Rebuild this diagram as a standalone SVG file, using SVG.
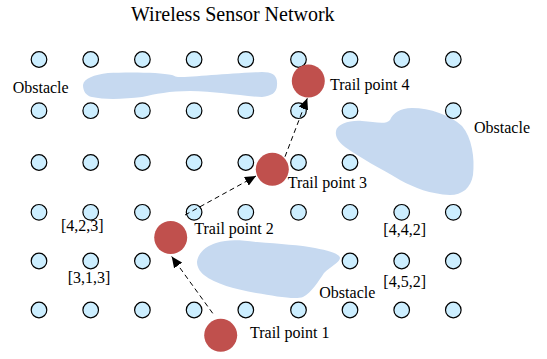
<svg xmlns="http://www.w3.org/2000/svg" width="547" height="359" viewBox="0 0 547 359">
  <style>
    text { font-family: "Liberation Serif", "Times New Roman", serif; fill: #000; }
    .title { font-size: 20px; }
    .lbl { font-size: 16px; }
    .sensor { fill: #CCEEFF; stroke: #000; stroke-width: 1.2; }
    .trail { fill: #C0504D; }
    .obstacle { fill: #C6D9F0; }
    .link { fill: none; stroke: #000; stroke-width: 1; stroke-dasharray: 5 3.5; }
  </style>
  <defs>
    <marker id="arrow" markerUnits="userSpaceOnUse" markerWidth="12" markerHeight="10" refX="11" refY="5" orient="auto">
      <path d="M0,0 L11,5 L0,10 Z" fill="#000"/>
    </marker>
  </defs>

  <rect width="547" height="359" fill="#fff"/>

  <text class="title" x="131" y="21">Wireless Sensor Network</text>

  <!-- obstacles -->
  <g id="obstacles">
    <path class="obstacle" d="M83,85 C84,78 94,75 108,73 C125,72 160,72 172,75 C175,76 176,77 178,77 C195,77 230,73 262,72 C272,72 278,75 277,85 C277,93 271,96 262,97 C240,96 215,91 190,91 C170,91 155,94 142,97 C125,99 105,100 92,97 C86,96 83,91 83,85 Z"/>
    <path class="obstacle" d="M336,131 C337,124 350,120 362,121 C375,122 386,125 390,120 C393,113 400,108 412,108 C430,108 450,115 462,126 C472,138 475,158 473,175 C471,188 462,195 450,195 C430,194 415,188 400,180 C380,168 360,158 345,147 C338,142 335,136 336,131 Z"/>
    <path class="obstacle" d="M197,262 C198,253 206,246 216,243 C228,239 240,240 257,242 C280,244 300,245 315,248 C330,251 340,254 340,258 C340,262 330,267 324,273 C318,282 312,292 303,297 C295,300 275,296 256,293 C235,289 215,284 204,275 C199,271 197,266 197,262 Z"/>
  </g>

  <!-- sensor grid -->
  <g id="sensors">
    <circle class="sensor" cx="39" cy="59.5" r="7.8"/>
    <circle class="sensor" cx="90.7" cy="59.5" r="7.8"/>
    <circle class="sensor" cx="142.4" cy="59.5" r="7.8"/>
    <circle class="sensor" cx="194.1" cy="59.5" r="7.8"/>
    <circle class="sensor" cx="245.8" cy="59.5" r="7.8"/>
    <circle class="sensor" cx="298.5" cy="59.5" r="7.8"/>
    <circle class="sensor" cx="350" cy="59.5" r="7.8"/>
    <circle class="sensor" cx="401.7" cy="59.5" r="7.8"/>
    <circle class="sensor" cx="453.3" cy="59.5" r="7.8"/>

    <circle class="sensor" cx="39" cy="110.7" r="7.8"/>
    <circle class="sensor" cx="90.7" cy="110.7" r="7.8"/>
    <circle class="sensor" cx="142.4" cy="110.7" r="7.8"/>
    <circle class="sensor" cx="194.1" cy="110.7" r="7.8"/>
    <circle class="sensor" cx="245.8" cy="110.7" r="7.8"/>
    <circle class="sensor" cx="298.5" cy="110.7" r="7.8"/>
    <circle class="sensor" cx="350" cy="110.7" r="7.8"/>
    <circle class="sensor" cx="453.3" cy="110.7" r="7.8"/>

    <circle class="sensor" cx="39" cy="162.5" r="7.8"/>
    <circle class="sensor" cx="90.7" cy="162.5" r="7.8"/>
    <circle class="sensor" cx="142.4" cy="162.5" r="7.8"/>
    <circle class="sensor" cx="194.1" cy="162.5" r="7.8"/>
    <circle class="sensor" cx="245.8" cy="162.5" r="7.8"/>
    <circle class="sensor" cx="298.5" cy="162.5" r="7.8"/>
    <circle class="sensor" cx="350" cy="162.5" r="7.8"/>

    <circle class="sensor" cx="39" cy="212.3" r="7.8"/>
    <circle class="sensor" cx="90.7" cy="212.3" r="7.8"/>
    <circle class="sensor" cx="142.4" cy="212.3" r="7.8"/>
    <circle class="sensor" cx="194.1" cy="212.3" r="7.8"/>
    <circle class="sensor" cx="245.8" cy="212.3" r="7.8"/>
    <circle class="sensor" cx="298.5" cy="212.3" r="7.8"/>
    <circle class="sensor" cx="350" cy="212.3" r="7.8"/>
    <circle class="sensor" cx="401.7" cy="212.3" r="7.8"/>
    <circle class="sensor" cx="453.3" cy="212.3" r="7.8"/>

    <circle class="sensor" cx="39" cy="261" r="7.8"/>
    <circle class="sensor" cx="90.7" cy="261" r="7.8"/>
    <circle class="sensor" cx="142.4" cy="261" r="7.8"/>
    <circle class="sensor" cx="350" cy="261" r="7.8"/>
    <circle class="sensor" cx="401.7" cy="261" r="7.8"/>
    <circle class="sensor" cx="453.3" cy="261" r="7.8"/>

    <circle class="sensor" cx="39" cy="310" r="7.8"/>
    <circle class="sensor" cx="90.7" cy="310" r="7.8"/>
    <circle class="sensor" cx="142.4" cy="310" r="7.8"/>
    <circle class="sensor" cx="194.1" cy="310" r="7.8"/>
    <circle class="sensor" cx="245.8" cy="310" r="7.8"/>
    <circle class="sensor" cx="298.5" cy="310" r="7.8"/>
    <circle class="sensor" cx="350" cy="310" r="7.8"/>
    <circle class="sensor" cx="401.7" cy="310" r="7.8"/>
    <circle class="sensor" cx="453.3" cy="310" r="7.8"/>
  </g>

  <!-- dashed trail path -->
  <g id="connectors">
    <line class="link" x1="212.7" y1="313.3" x2="171.7" y2="256.5" marker-end="url(#arrow)"/>
    <line class="link" x1="185" y1="215" x2="256" y2="176" marker-end="url(#arrow)"/>
    <line class="link" x1="285" y1="156.7" x2="307.3" y2="98.3" marker-end="url(#arrow)"/>
  </g>

  <!-- trail points -->
  <g id="trail-point-1">
    <circle class="trail" cx="220.7" cy="335.3" r="16.5"/>
    <text class="lbl" x="250" y="338">Trail point 1</text>
  </g>
  <g id="trail-point-2">
    <circle class="trail" cx="170.7" cy="237.5" r="16.5"/>
    <text class="lbl" x="194.3" y="234.3">Trail point 2</text>
  </g>
  <g id="trail-point-3">
    <circle class="trail" cx="272.3" cy="169.3" r="16.5"/>
    <text class="lbl" x="287.7" y="187.7">Trail point 3</text>
  </g>
  <g id="trail-point-4">
    <circle class="trail" cx="308.3" cy="81" r="16.5"/>
    <text class="lbl" x="330" y="90">Trail point 4</text>
  </g>

  <!-- labels -->
  <g id="labels">
    <text class="lbl" x="12.7" y="93">Obstacle</text>
    <text class="lbl" x="474" y="132.5">Obstacle</text>
    <text class="lbl" x="319.3" y="298.3">Obstacle</text>
    <text class="lbl" x="61" y="231">[4,2,3]</text>
    <text class="lbl" x="67.7" y="283">[3,1,3]</text>
    <text class="lbl" x="383.3" y="235">[4,4,2]</text>
    <text class="lbl" x="383.3" y="287">[4,5,2]</text>
  </g>
</svg>
